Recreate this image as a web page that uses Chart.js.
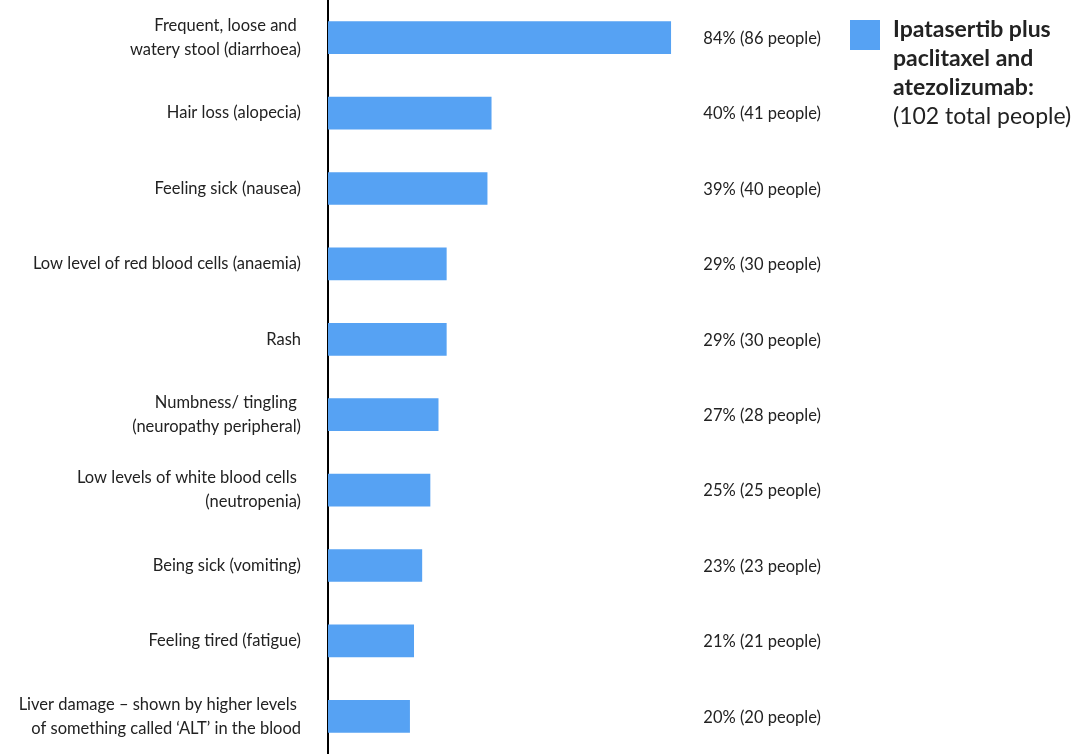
<!DOCTYPE html>
<html>
<head>
<meta charset="utf-8">
<script src="https://cdn.jsdelivr.net/npm/chart.js@4"></script>
<style>
  html, body { margin: 0; padding: 0; background: #fff; }
  #wrap { width: 1089px; height: 754px; position: relative; }
</style>
</head>
<body>
<div id="wrap"><canvas id="sideEffectsChart"></canvas></div>
<script>
const categories = [
  ['Frequent, loose and ', 'watery stool (diarrhoea)'],
  'Hair loss (alopecia)',
  'Feeling sick (nausea)',
  'Low level of red blood cells (anaemia)',
  'Rash',
  ['Numbness/ tingling ', '(neuropathy peripheral)'],
  ['Low levels of white blood cells ', '(neutropenia)'],
  'Being sick (vomiting)',
  'Feeling tired (fatigue)',
  ['Liver damage \u2013 shown by higher levels ', 'of something called \u2018ALT\u2019 in the blood']
];
const percents = [84, 40, 39, 29, 29, 27, 25, 23, 21, 20];
const people = [86, 41, 40, 30, 30, 28, 25, 23, 21, 20];
const legendTitle = ['Ipatasertib plus', 'paclitaxel and', 'atezolizumab:'];
const legendNote = '(102 total people)';

const barColor = '#56a2f3';
const textColor = '#222';
const fontFamily = 'Lato, "Open Sans", sans-serif';

// text next to each bar, e.g. "84% (86 people)"
const valueLabels = {
  id: 'valueLabels',
  afterDatasetsDraw(chart) {
    const ctx = chart.ctx;
    const x = chart.scales.x.getPixelForValue(92);
    ctx.save();
    ctx.font = '16.5px ' + fontFamily;
    ctx.fillStyle = textColor;
    ctx.textAlign = 'left';
    ctx.textBaseline = 'middle';
    chart.getDatasetMeta(0).data.forEach((bar, i) => {
      ctx.fillText(percents[i] + '% (' + people[i] + ' people)', x, bar.y + 1);
    });
    ctx.restore();
  }
};

const sideLegend = {
  id: 'sideLegend',
  afterDraw(chart) {
    const ctx = chart.ctx;
    const left = chart.chartArea.right + 114;
    const top = 20;
    ctx.save();
    ctx.fillStyle = barColor;
    ctx.fillRect(left, top, 30, 30);
    ctx.fillStyle = textColor;
    ctx.textAlign = 'left';
    ctx.textBaseline = 'middle';
    ctx.font = 'bold 23px ' + fontFamily;
    legendTitle.forEach((line, i) => {
      ctx.fillText(line, left + 43, top + 10 + i * 29);
    });
    ctx.font = '23px ' + fontFamily;
    ctx.fillText(legendNote, left + 43, top + 10 + legendTitle.length * 29);
    ctx.restore();
  }
};

new Chart(document.getElementById('sideEffectsChart'), {
  type: 'bar',
  data: {
    labels: categories,
    datasets: [{
      data: percents,
      backgroundColor: barColor,
      barThickness: 32
    }]
  },
  options: {
    indexAxis: 'y',
    responsive: true,
    maintainAspectRatio: false,
    animation: false,
    layout: { padding: { top: 0, bottom: 0, left: 0, right: 353 } },
    plugins: {
      legend: { display: false },
      tooltip: { enabled: false }
    },
    scales: {
      x: {
        min: 0,
        max: 100,
        display: false
      },
      y: {
        grid: { display: false },
        border: { display: true, color: '#000', width: 2 },
        ticks: {
          color: textColor,
          padding: 19,
          font: { family: fontFamily, size: 16.5, lineHeight: 1.45 }
        },
        afterFit(scale) {
          scale.width = 328;
          scale.paddingTop = 0;
          scale.paddingBottom = 0;
        }
      }
    }
  },
  plugins: [valueLabels, sideLegend]
});
</script>
</body>
</html>
